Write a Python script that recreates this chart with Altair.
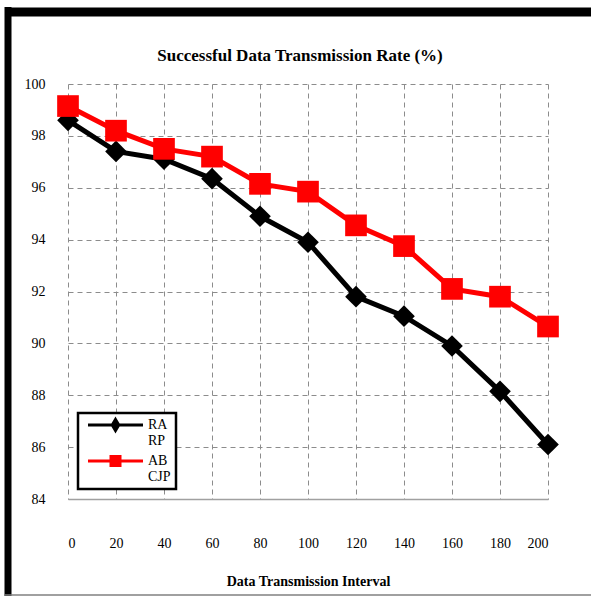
import altair as alt
import pandas as pd

x_vals = [0, 20, 40, 60, 80, 100, 120, 140, 160, 180, 200]
ra_rp = [98.6, 97.4, 97.1, 96.35, 94.9, 93.9, 91.8, 91.05, 89.9, 88.15, 86.1]
ab_cjp = [99.15, 98.2, 97.5, 97.2, 96.15, 95.85, 94.55, 93.75, 92.1, 91.8, 90.65]
series_names = ["RA RP", "AB CJP"]
series_colors = ["#000000", "#FF0000"]
y_ticks = [84, 86, 88, 90, 92, 94, 96, 98, 100]

rows = []
for name, vals in zip(series_names, [ra_rp, ab_cjp]):
    for xv, yv in zip(x_vals, vals):
        rows.append({"interval": xv, "rate": yv, "series": name})
df = pd.DataFrame(rows)

FONT = "Liberation Serif"
W, H = 480, 415

x_enc = alt.X("interval:Q",
              scale=alt.Scale(domain=[0, 200], nice=False),
              axis=alt.Axis(values=x_vals, title="Data Transmission Interval",
                            grid=True, gridDash=[5, 4], gridColor="#8c8c8c",
                            gridWidth=1, ticks=False, tickSize=0,
                            domain=True, domainColor="#a0a0a0", domainWidth=1.5,
                            labelFont=FONT, labelFontSize=14, labelColor="#000000",
                            labelBaseline="middle", labelPadding=44,
                            titleFont=FONT, titleFontSize=14, titleFontWeight="bold",
                            titleColor="#000000", titleY=82, titleBaseline="middle"))
y_enc = alt.Y("rate:Q",
              scale=alt.Scale(domain=[84, 100], nice=False, zero=False),
              axis=alt.Axis(values=y_ticks, title=None,
                            grid=True, gridDash=[5, 4], gridColor="#8c8c8c",
                            gridWidth=1, ticks=False, tickSize=0, domain=False,
                            labelFont=FONT, labelFontSize=14, labelColor="#000000",
                            labelPadding=23))

# legend symbol shapes: a line segment with a marker in its middle (unit = 5 px)
diamond_path = "M-0.4,0L10.6,0M5.1,-1.1L5.75,0L5.1,1.1L4.45,0Z"
square_path = "M-0.4,0L10.6,0M4.2,-0.9L6.0,-0.9L6.0,0.9L4.2,0.9Z"
first = series_names[0]

legend = alt.Legend(
    title=None, orient="none", legendX=10, legendY=329,
    fillColor="#ffffff", strokeColor="#000000", padding=5,
    symbolSize=100, symbolStrokeWidth=3, labelOffset=51,
    symbolType={"expr": f"datum.value === '{first}' ? '{diamond_path}' : '{square_path}'"},
    symbolFillColor={"expr": f"datum.value === '{first}' ? '#000000' : '#FF0000'"},
    symbolStrokeColor={"expr": f"datum.value === '{first}' ? '#000000' : '#FF0000'"},
    symbolOpacity=1,
    labelFont=FONT, labelFontSize=14, labelColor="#000000",
    labelExpr="split(datum.label, ' ')", rowPadding=2,
)

color_enc = alt.Color("series:N",
                      scale=alt.Scale(domain=series_names, range=series_colors),
                      legend=legend)

base = alt.Chart(df)

layers = []
for name, col, shape in zip(series_names, series_colors, ["diamond", "square"]):
    sub = base.transform_filter(alt.datum.series == name)
    line = sub.mark_line(strokeWidth=5).encode(x=x_enc, y=y_enc, color=color_enc)
    pts = sub.mark_point(filled=True, opacity=1, size=470, shape=shape,
                         color=col).encode(x=x_enc, y=y_enc)
    layers += [line, pts]

one = alt.Data(values=[{"k": 1}])
left_border = alt.Chart(one).mark_rule(color="#000000", strokeWidth=7).encode(
    x=alt.value(-60), y=alt.value(-77), y2=alt.value(513))
top_border = alt.Chart(one).mark_rule(color="#000000", strokeWidth=9).encode(
    x=alt.value(-63), x2=alt.value(524), y=alt.value(-72))
bottom_line = alt.Chart(one).mark_rule(color="#808080", strokeWidth=1.5).encode(
    x=alt.value(-63), x2=alt.value(524), y=alt.value(511))

chart = alt.layer(*layers, left_border, top_border, bottom_line).properties(
    width=W, height=H,
    title=alt.TitleParams("Successful Data Transmission Rate (%)", font=FONT,
                          fontSize=17, fontWeight="bold", color="#000000",
                          anchor="middle", frame="group", baseline="middle",
                          offset=0, dy=69, dx=-8),
    autosize=alt.AutoSizeParams(type="none"),
    padding={"left": 68, "top": 84, "right": 43, "bottom": 97},
).configure_view(strokeWidth=0).configure_legend(strokeWidth=2.5)

chart.save("out.html", embed_options={"renderer": "svg", "actions": False})
